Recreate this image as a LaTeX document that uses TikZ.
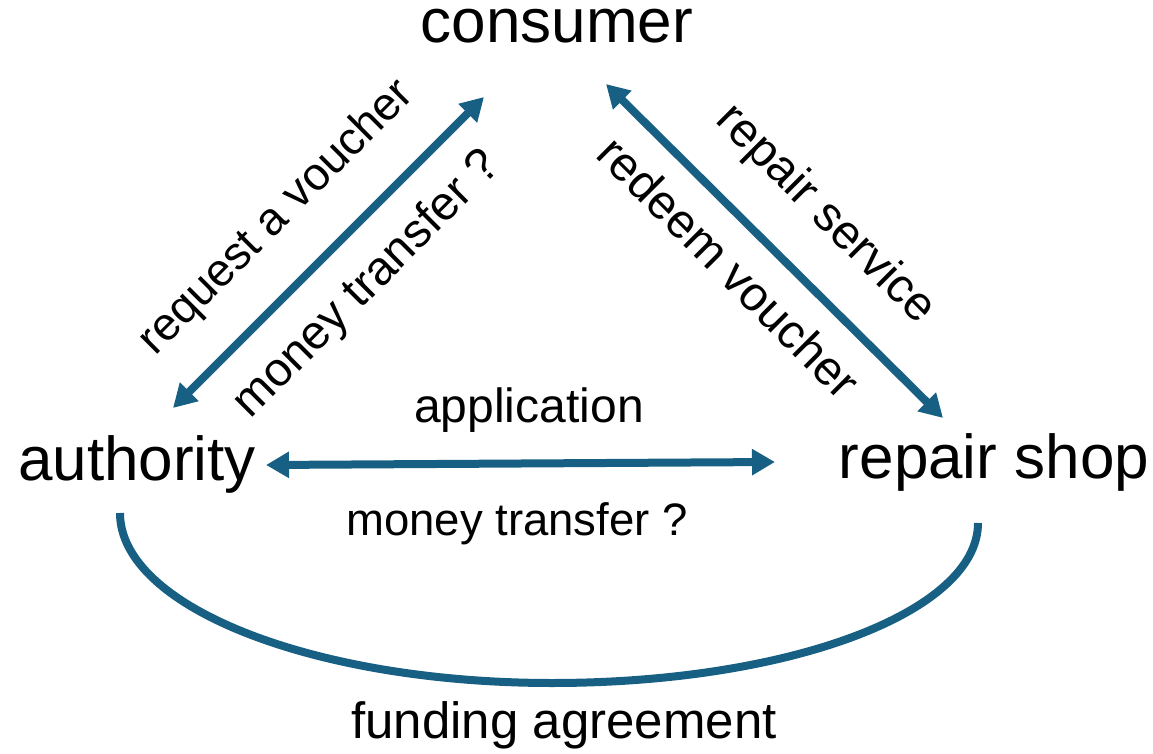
\documentclass[tikz,border=0pt]{standalone}
\usepackage{fontspec}
\setmainfont{Liberation Sans}
\usetikzlibrary{arrows.meta}
\definecolor{arrowblue}{RGB}{24,96,131}
\tikzset{
  conn/.style={draw=arrowblue, line width=8pt},
  dbl/.style={conn, {Triangle[length=23pt,width=25pt]}-{Triangle[length=23pt,width=25pt]}},
  bigtxt/.style={font=\fontsize{62}{70}\selectfont, inner sep=0pt, anchor=base},
  lbl/.style={inner sep=0pt},
}
\newcommand{\fsz}[1]{\fontsize{#1}{#1}\selectfont}
\begin{document}
\begin{tikzpicture}[x=1pt,y=-1pt]
\useasboundingbox (0,0) rectangle (1153,754);
% main nodes
\node[bigtxt] (consumer) at (557,43) {consumer};
\node[bigtxt] (authority) at (137,480) {authority};
\node[bigtxt] (shop) at (994,478) {repair shop};
% arrow ends
\coordinate (aUp) at (173,408);
\coordinate (cL) at (484,97);
\coordinate (cR) at (606,84);
\coordinate (sUp) at (943,418);
\coordinate (aR) at (266,465);
\coordinate (sL) at (775,462);
\coordinate (aB) at (120,513);
\coordinate (sB) at (978,523);
% connectors
\draw[dbl] (aUp) -- (cL);
\draw[dbl] (cR) -- (sUp);
\draw[dbl] (aR) -- (sL);
\draw[conn] (aB) .. controls (120,607) and (314,683) .. (552,683)
            .. controls (790,683) and (978,612) .. (sB);
% labels
\node[lbl, rotate=45, font=\fsz{46}] (reqv) at (277,218) {request a voucher};
\node[lbl, rotate=45, font=\fsz{47.5}] (mtd) at (368,285) {money transfer ?};
\node[lbl, rotate=-45, font=\fsz{48}] (rsv) at (825,215) {repair service};
\node[lbl, rotate=-45, font=\fsz{48}] (rdv) at (729,267) {redeem voucher};
\node[lbl, anchor=base, font=\fsz{48}] (app) at (529,422) {application};
\node[lbl, anchor=base, font=\fsz{45.5}] (mth) at (517,535) {money transfer ?};
\node[lbl, anchor=base, font=\fsz{51}] (fund) at (564,738) {funding agreement};
\end{tikzpicture}
\end{document}
